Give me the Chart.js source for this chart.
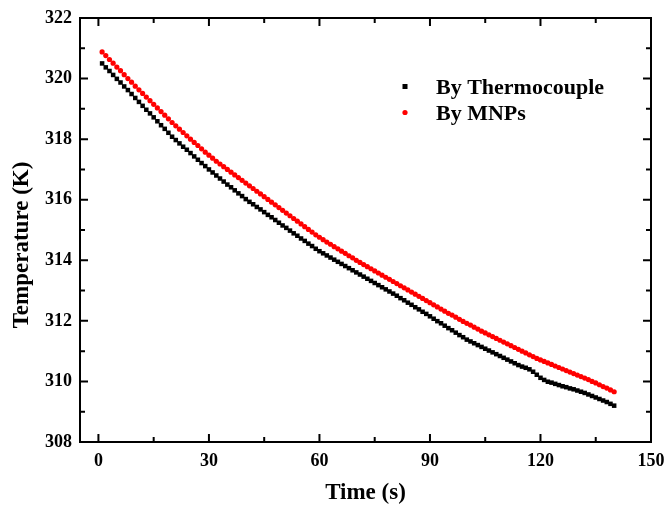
<!DOCTYPE html>
<html>
<head>
<meta charset="utf-8">
<script src="https://cdn.jsdelivr.net/npm/chart.js@4/dist/chart.umd.min.js"></script>
<style>
  body { margin: 0; background: #fff; }
  #wrap { width: 665px; height: 507px; }
</style>
</head>
<body>
<div id="wrap"><canvas id="chart" width="665" height="507"></canvas></div>
<script>
// temps de mesure (s)
const time = [
  1, 2, 3, 4, 5, 6, 7, 8, 9, 10, 11, 12, 13, 14, 15, 16, 17, 18, 19, 20,
  21, 22, 23, 24, 25, 26, 27, 28, 29, 30, 31, 32, 33, 34, 35, 36, 37, 38, 39, 40,
  41, 42, 43, 44, 45, 46, 47, 48, 49, 50, 51, 52, 53, 54, 55, 56, 57, 58, 59, 60,
  61, 62, 63, 64, 65, 66, 67, 68, 69, 70, 71, 72, 73, 74, 75, 76, 77, 78, 79, 80,
  81, 82, 83, 84, 85, 86, 87, 88, 89, 90, 91, 92, 93, 94, 95, 96, 97, 98, 99, 100,
  101, 102, 103, 104, 105, 106, 107, 108, 109, 110, 111, 112, 113, 114, 115, 116, 117, 118, 119, 120,
  121, 122, 123, 124, 125, 126, 127, 128, 129, 130, 131, 132, 133, 134, 135, 136, 137, 138, 139, 140
];

// température mesurée par le thermocouple (K)
const thermocouple = [
  320.50, 320.37, 320.25, 320.12, 319.99, 319.87, 319.74, 319.62, 319.49, 319.36,
  319.23, 319.10, 318.97, 318.85, 318.72, 318.59, 318.46, 318.34, 318.21, 318.08,
  317.97, 317.86, 317.75, 317.65, 317.54, 317.43, 317.32, 317.21, 317.11, 317.00,
  316.90, 316.80, 316.70, 316.60, 316.50, 316.41, 316.31, 316.21, 316.12, 316.02,
  315.93, 315.85, 315.76, 315.68, 315.59, 315.50, 315.42, 315.33, 315.24, 315.15,
  315.07, 314.98, 314.89, 314.81, 314.72, 314.64, 314.55, 314.47, 314.38, 314.30,
  314.23, 314.16, 314.09, 314.02, 313.95, 313.88, 313.81, 313.74, 313.67, 313.60,
  313.53, 313.46, 313.39, 313.32, 313.25, 313.18, 313.11, 313.04, 312.97, 312.90,
  312.83, 312.75, 312.68, 312.60, 312.53, 312.45, 312.38, 312.30, 312.23, 312.15,
  312.07, 311.99, 311.92, 311.84, 311.76, 311.69, 311.61, 311.53, 311.46, 311.38,
  311.32, 311.26, 311.20, 311.14, 311.08, 311.02, 310.96, 310.90, 310.84, 310.78,
  310.72, 310.66, 310.60, 310.54, 310.49, 310.45, 310.40, 310.32, 310.22, 310.12,
  310.05, 309.99, 309.96, 309.92, 309.88, 309.84, 309.81, 309.77, 309.74, 309.70,
  309.66, 309.62, 309.57, 309.52, 309.47, 309.42, 309.37, 309.32, 309.26, 309.20
];

// température déduite des nanoparticules (K)
const mnps = [
  320.88, 320.76, 320.63, 320.51, 320.38, 320.26, 320.13, 320.00, 319.88, 319.75,
  319.63, 319.51, 319.39, 319.27, 319.15, 319.03, 318.91, 318.79, 318.67, 318.55,
  318.44, 318.33, 318.22, 318.11, 318.00, 317.89, 317.79, 317.68, 317.57, 317.47,
  317.37, 317.27, 317.18, 317.09, 317.00, 316.91, 316.82, 316.73, 316.64, 316.55,
  316.46, 316.37, 316.28, 316.19, 316.10, 316.01, 315.92, 315.83, 315.74, 315.65,
  315.56, 315.47, 315.38, 315.29, 315.20, 315.11, 315.02, 314.93, 314.84, 314.76,
  314.68, 314.60, 314.53, 314.45, 314.38, 314.30, 314.23, 314.15, 314.08, 314.00,
  313.93, 313.86, 313.79, 313.72, 313.65, 313.58, 313.51, 313.44, 313.37, 313.30,
  313.23, 313.16, 313.09, 313.02, 312.95, 312.88, 312.81, 312.74, 312.67, 312.60,
  312.53, 312.46, 312.39, 312.32, 312.25, 312.19, 312.12, 312.05, 311.98, 311.92,
  311.86, 311.79, 311.73, 311.66, 311.60, 311.54, 311.48, 311.42, 311.36, 311.30,
  311.24, 311.18, 311.12, 311.06, 311.00, 310.94, 310.88, 310.82, 310.76, 310.71,
  310.66, 310.61, 310.56, 310.51, 310.46, 310.41, 310.36, 310.31, 310.26, 310.21,
  310.16, 310.11, 310.06, 310.00, 309.95, 309.89, 309.83, 309.78, 309.72, 309.66
];

const seriesLabels = ['By Thermocouple', 'By MNPs'];
const xTicks = [0, 30, 60, 90, 120, 150];
const xMinor = [15, 45, 75, 105, 135];
const yTicks = [308, 310, 312, 314, 316, 318, 320, 322];
const yMinor = [309, 311, 313, 315, 317, 319, 321];

const FONT = 'Liberation Serif';

// cadre, graduations intérieures, légende et titre vertical
const framePlugin = {
  id: 'frame',
  afterDraw(chart) {
    const { ctx, chartArea: a, scales } = chart;
    const x = scales.x;
    const y = scales.y;
    ctx.save();
    ctx.strokeStyle = '#000';
    ctx.lineWidth = 2;
    ctx.strokeRect(a.left, a.top, a.right - a.left, a.bottom - a.top);

    const tick = (px, len, vertical) => {
      ctx.beginPath();
      if (vertical) {
        ctx.moveTo(px, a.bottom); ctx.lineTo(px, a.bottom - len);
        ctx.moveTo(px, a.top); ctx.lineTo(px, a.top + len);
      } else {
        ctx.moveTo(a.left, px); ctx.lineTo(a.left + len, px);
        ctx.moveTo(a.right, px); ctx.lineTo(a.right - len, px);
      }
      ctx.stroke();
    };
    xTicks.forEach((v) => tick(x.getPixelForValue(v), 8, true));
    xMinor.forEach((v) => tick(x.getPixelForValue(v), 5, true));
    yTicks.forEach((v) => tick(y.getPixelForValue(v), 8, false));
    yMinor.forEach((v) => tick(y.getPixelForValue(v), 5, false));

    // légende
    ctx.fillStyle = '#000';
    ctx.fillRect(402.5, 84, 5, 5);
    ctx.fillStyle = '#ff0000';
    ctx.beginPath();
    ctx.arc(405, 112.5, 2.6, 0, Math.PI * 2);
    ctx.fill();
    ctx.fillStyle = '#000';
    ctx.font = `bold 22px "${FONT}"`;
    ctx.textAlign = 'left';
    ctx.textBaseline = 'alphabetic';
    ctx.fillText(chart.data.datasets[0].label, 436, 94);
    ctx.fillText(chart.data.datasets[1].label, 436, 120);

    // titre de l'axe y
    ctx.translate(28, 245);
    ctx.rotate(-Math.PI / 2);
    ctx.textAlign = 'center';
    ctx.font = `bold 23px "${FONT}"`;
    ctx.fillText('Temperature (K)', 0, 0);
    ctx.restore();
  },
};

const tickFont = { family: FONT, size: 18, weight: 'bold' };

const chart = new Chart(document.getElementById('chart'), {
  type: 'scatter',
  data: {
    datasets: [
      {
        label: seriesLabels[0],
        data: time.map((t, i) => ({ x: t, y: thermocouple[i] })),
        pointStyle: 'rect',
        pointRadius: 3.2,
        pointBorderWidth: 0,
        backgroundColor: '#000',
        borderColor: '#000',
      },
      {
        label: seriesLabels[1],
        data: time.map((t, i) => ({ x: t, y: mnps[i] })),
        pointStyle: 'circle',
        pointRadius: 2.6,
        pointBorderWidth: 0,
        backgroundColor: '#ff0000',
        borderColor: '#ff0000',
      },
    ],
  },
  options: {
    responsive: false,
    animation: false,
    events: [],
    layout: { padding: { top: 18, right: 14, left: 0, bottom: 0 } },
    plugins: { legend: { display: false }, tooltip: { enabled: false } },
    scales: {
      x: {
        type: 'linear',
        min: -5,
        max: 150,
        afterBuildTicks: (s) => { s.ticks = xTicks.map((v) => ({ value: v })); },
        afterFit: (s) => {
          s.height = 65;
          // le libellé 150 peut déborder à droite comme sur l'original
          s.paddingLeft = 0;
          s.paddingRight = 0;
        },
        grid: { display: false, drawTicks: false },
        border: { display: false },
        ticks: { padding: 9, color: '#000', font: tickFont, maxRotation: 0, autoSkip: false },
        title: {
          display: true,
          text: 'Time (s)',
          color: '#000',
          font: { family: FONT, size: 23, weight: 'bold' },
          padding: { top: 0, bottom: 0 },
        },
      },
      y: {
        type: 'linear',
        min: 308,
        max: 322,
        afterBuildTicks: (s) => { s.ticks = yTicks.map((v) => ({ value: v })); },
        afterFit: (s) => {
          s.width = 80;
          s.paddingTop = 0;
          s.paddingBottom = 0;
        },
        grid: { display: false, drawTicks: false },
        border: { display: false },
        ticks: { padding: 8, color: '#000', font: tickFont, autoSkip: false },
      },
    },
  },
  plugins: [framePlugin],
});
</script>
</body>
</html>
